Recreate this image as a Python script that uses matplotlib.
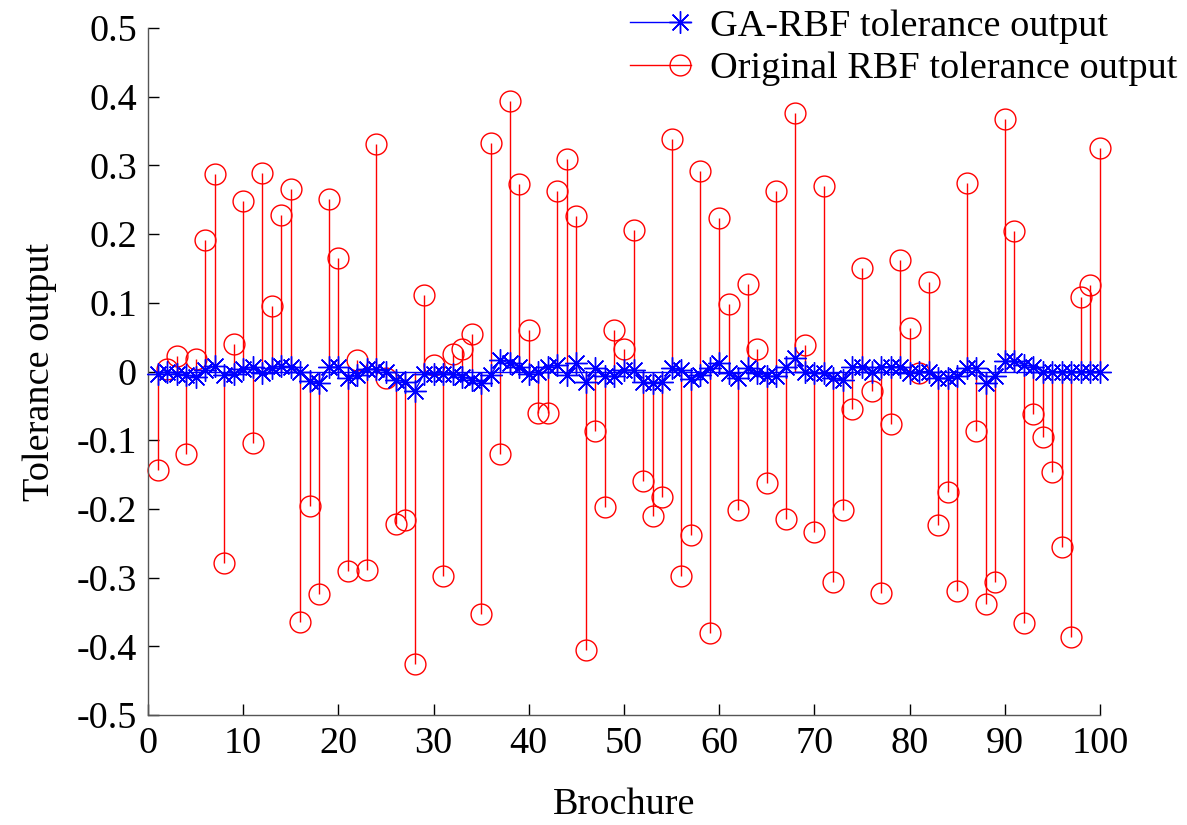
import matplotlib
matplotlib.use("Agg")
import matplotlib.pyplot as plt
import numpy as np
from matplotlib.ticker import FuncFormatter
from matplotlib.lines import Line2D
from matplotlib.legend_handler import HandlerLine2D

plt.rcParams['font.family'] = ['Liberation Serif', 'DejaVu Serif']
plt.rcParams['axes.unicode_minus'] = False

samples = list(range(1, 101))

original_rbf = [
    -0.143, 0.003, 0.023, -0.120, 0.018, 0.192, 0.287, -0.278, 0.040, 0.248,
    -0.104, 0.289, 0.095, 0.228, 0.266, -0.365, -0.196, -0.324, 0.251, 0.166,
    -0.290, 0.017, -0.289, 0.331, -0.010, -0.222, -0.216, -0.425, 0.112, 0.010,
    -0.297, 0.025, 0.033, 0.055, -0.353, 0.333, -0.120, 0.394, 0.273, 0.060,
    -0.061, -0.061, 0.263, 0.309, 0.226, -0.406, -0.087, -0.197, 0.060, 0.033,
    0.206, -0.159, -0.211, -0.183, 0.338, -0.298, -0.238, 0.292, -0.380, 0.224,
    0.098, -0.202, 0.127, 0.033, -0.162, 0.263, -0.214, 0.376, 0.038, -0.233,
    0.270, -0.307, -0.201, -0.054, 0.150, -0.029, -0.323, -0.077, 0.162, 0.064,
    -0.002, 0.131, -0.224, -0.176, -0.319, 0.275, -0.086, -0.338, -0.306, 0.368,
    0.205, -0.366, -0.062, -0.096, -0.146, -0.255, -0.386, 0.109, 0.126, 0.325,
]

ga_rbf = [
    -0.004, 0.000, -0.003, -0.005, -0.008, 0.002, 0.008, -0.005, -0.003, 0.003,
    0.007, -0.002, 0.005, 0.008, 0.006, 0.000, -0.014, -0.017, 0.007, 0.006,
    -0.010, -0.005, 0.003, 0.004, 0.000, -0.012, -0.015, -0.029, -0.003, -0.003,
    -0.004, -0.003, -0.008, -0.012, -0.016, -0.005, 0.017, 0.012, 0.007, -0.003,
    0.000, 0.007, 0.009, -0.005, 0.012, -0.015, 0.005, -0.007, -0.007, 0.002,
    0.002, -0.015, -0.017, -0.015, 0.005, 0.002, -0.011, -0.005, 0.005, 0.012,
    -0.002, -0.010, 0.005, -0.002, -0.007, -0.007, 0.007, 0.019, 0.000, -0.002,
    -0.002, -0.010, -0.012, 0.007, 0.007, 0.000, 0.007, 0.007, 0.007, -0.002,
    0.000, 0.000, -0.010, -0.010, -0.007, 0.005, 0.005, -0.017, -0.007, 0.015,
    0.015, 0.010, 0.007, 0.000, 0.000, 0.000, 0.000, 0.000, 0.000, 0.000,
]

x_ticks = [0, 10, 20, 30, 40, 50, 60, 70, 80, 90, 100]
y_ticks = [-0.5, -0.4, -0.3, -0.2, -0.1, 0, 0.1, 0.2, 0.3, 0.4, 0.5]


class EndMarkerHandler(HandlerLine2D):
    def create_artists(self, legend, orig_handle, xdescent, ydescent,
                       width, height, fontsize, trans):
        yc = height / 2.0 - ydescent
        line = Line2D([-xdescent, -xdescent + width], [yc, yc])
        self.update_prop(line, orig_handle, legend)
        line.set_marker('None')
        mk = Line2D([-xdescent + width * 0.82], [yc])
        self.update_prop(mk, orig_handle, legend)
        mk.set_linestyle('None')
        line.set_transform(trans)
        mk.set_transform(trans)
        return [line, mk]


fig = plt.figure(figsize=(11.87, 8.25), dpi=100)
ax = fig.add_axes([0.1247, 0.1333, 0.8020, 0.8327])

asterisk = (8, 2, 0)
ga_line, = ax.plot(samples, ga_rbf, color='blue', linewidth=1.0, marker=asterisk,
                   markersize=16, markeredgewidth=1.0, zorder=3, clip_on=False)

ml, sl, bl = ax.stem(samples, original_rbf, linefmt='r-', markerfmt='o', basefmt='b-')
plt.setp(sl, linewidth=1.0, color='red', clip_on=False)
plt.setp(ml, markerfacecolor='none', markeredgecolor='red', markersize=15,
         markeredgewidth=1.0, clip_on=False)
plt.setp(bl, linewidth=1.0, color='blue', clip_on=False)

ax.set_xlim(0, 100)
ax.set_ylim(-0.5, 0.5)
ax.set_xticks(x_ticks)
ax.set_yticks(y_ticks)
ax.yaxis.set_major_formatter(FuncFormatter(lambda v, p: '%g' % round(v, 2)))

for s in ['top', 'right']:
    ax.spines[s].set_visible(False)
for s in ['left', 'bottom']:
    ax.spines[s].set_color('#555555')
    ax.spines[s].set_linewidth(1.0)

ax.tick_params(direction='in', length=8, width=1, labelsize=27.5, pad=8)
ax.set_xlabel('Brochure', fontsize=27.5, labelpad=19)
ax.set_ylabel('Tolerance output', fontsize=27.5, labelpad=14)

h_ga = Line2D([], [], color='blue', linewidth=1.0, marker=asterisk, markersize=16,
              markeredgewidth=1.0)
h_orig = Line2D([], [], color='red', linewidth=1.0, marker='o', markersize=15,
                markerfacecolor='none', markeredgecolor='red', markeredgewidth=1.0)
leg = ax.legend([h_ga, h_orig],
                ['GA-RBF tolerance output', 'Original RBF tolerance output'],
                handler_map={Line2D: EndMarkerHandler()},
                loc='upper right', bbox_to_anchor=(1.0975, 1.05), frameon=False,
                fontsize=27.5, handlelength=1.6, handletextpad=0.5, labelspacing=0.2,
                borderaxespad=0.0)

fig.savefig('out.png', dpi=100)
